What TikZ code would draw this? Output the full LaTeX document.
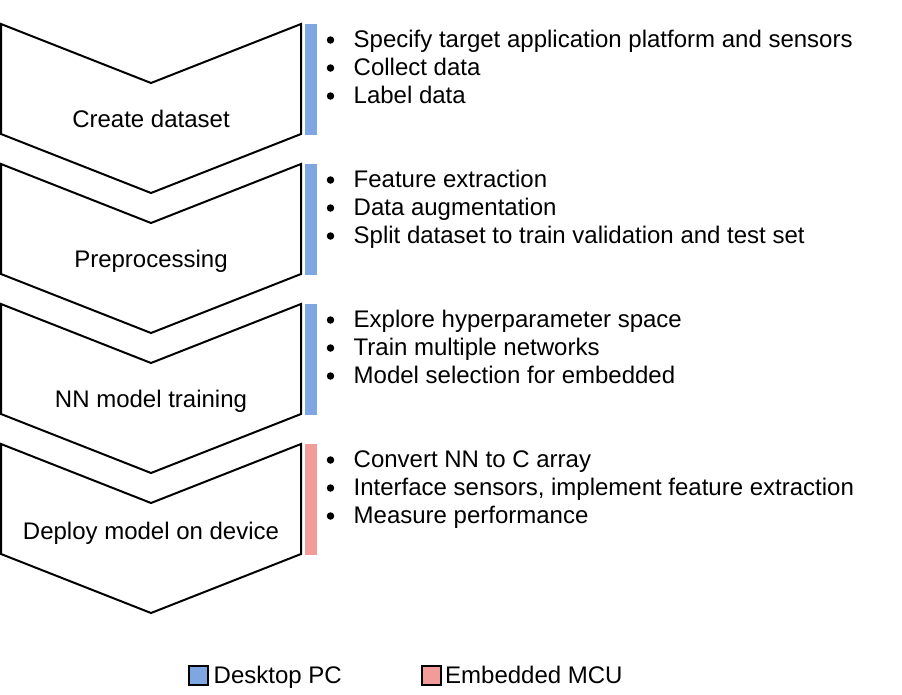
\documentclass[tikz,border=0pt]{standalone}
\usepackage{fontspec}
\setmainfont{Liberation Sans}
\definecolor{pcblue}{HTML}{7EA6E0}
\definecolor{mcured}{HTML}{F19C99}
\begin{document}
\begin{tikzpicture}[x=1pt,y=-1pt,
  every node/.style={font=\fontsize{24}{28}\selectfont, inner sep=0pt, text=black},
  chev/.style={draw=black, line width=2pt, fill=white, line join=miter},
  lbl/.style={anchor=base},
  itemtxt/.style={anchor=base west},
  dot/.style={circle, fill=black, minimum size=7.5pt, inner sep=0pt},
  bar/.style={draw=none},
  legbox/.style={draw=black, line width=2pt, minimum size=19pt, inner sep=0pt}
]
\useasboundingbox (0,0) rectangle (902,694);

% chevrons
\foreach \top/\name/\txt/\bl/\col in {
  24/c1/Create dataset/127/pcblue,
  164/c2/Preprocessing/267/pcblue,
  304/c3/NN model training/407/pcblue,
  444/c4/Deploy model on device/539/mcured} {
  \draw[chev] (1,\top) -- (151,\top+59) -- (301,\top) -- (301,\top+110)
     -- (151,\top+169) -- (1,\top+110) -- cycle;
  \node[lbl] (\name) at (151,\bl) {\txt};
  \fill[\col] (305,\top) rectangle (316.5,\top+111);
}

% bullet lists
\foreach \top/\blk/\la/\lb/\lc in {
  24/b1/Specify target application platform and sensors/Collect data/Label data,
  164/b2/Feature extraction/Data augmentation/Split dataset to train validation and test set,
  304/b3/Explore hyperparameter space/Train multiple networks/Model selection for embedded,
  444/b4/Convert NN to C array/{Interface sensors, implement feature extraction}/Measure performance} {
  \node[itemtxt] (\blk-1) at (353.5,\top+23) {\la};
  \node[itemtxt] (\blk-2) at (353.5,\top+51) {\lb};
  \node[itemtxt] (\blk-3) at (353.5,\top+79) {\lc};
  \node[dot] (\blk-d1) at (330.5,\top+16) {};
  \node[dot] (\blk-d2) at (330.5,\top+44) {};
  \node[dot] (\blk-d3) at (330.5,\top+72) {};
}

% legend
\node[legbox, fill=pcblue] (lg1) at (198,675) {};
\node[itemtxt] (lt1) at (213.5,683.5) {Desktop PC};
\node[legbox, fill=mcured] (lg2) at (431,675) {};
\node[itemtxt] (lt2) at (445,683.5) {Embedded MCU};
\end{tikzpicture}
\end{document}
